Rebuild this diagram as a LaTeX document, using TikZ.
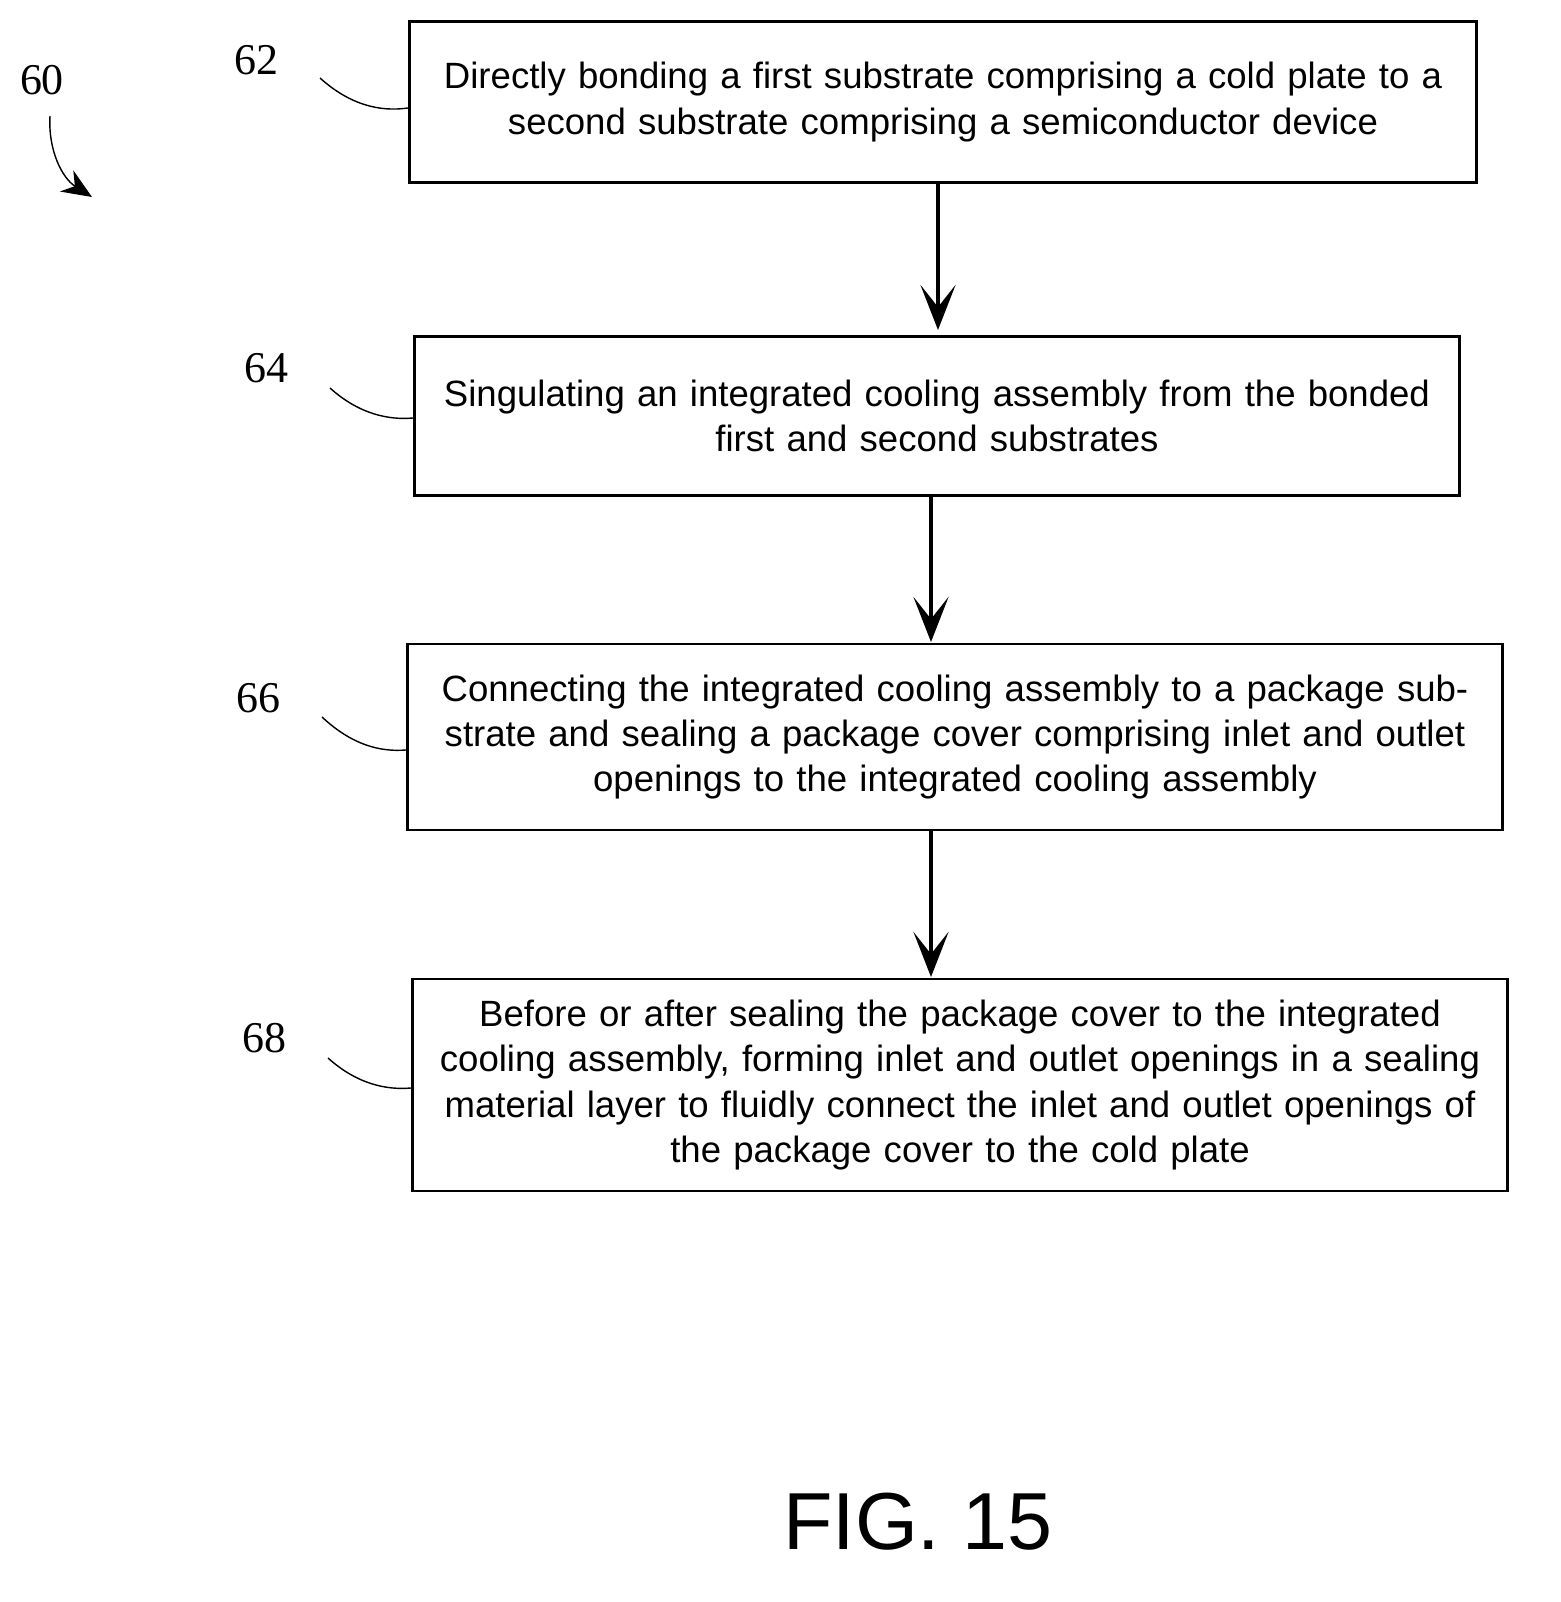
\documentclass[tikz,border=0pt]{standalone}
\usepackage{fontspec}
\setmainfont{Liberation Serif}
\newfontfamily\boxfont{Liberation Sans}
\usetikzlibrary{arrows.meta}
\begin{document}
\begin{tikzpicture}[x=0.01cm,y=-0.01cm,
    stepbox/.style={draw, thick, inner sep=0pt, align=center,
        font=\boxfont\fontsize{10.4}{12.9}\selectfont},
    ref/.style={font=\fontsize{12.5}{14}\selectfont},
    flow/.style={line width=1.3pt, -{Stealth[length=4.5mm,width=3.5mm,inset=2.2mm]}},
    leader/.style={thin}]
    \useasboundingbox (0,0) rectangle (1561,1602);
    % steps
    \node[stepbox, minimum width=10.67cm, minimum height=1.61cm, text width=10.6cm] (s62) at (943,102)
        {Directly bonding a first substrate comprising a cold plate to a\\second substrate comprising a semiconductor device};
    \node[stepbox, minimum width=10.45cm, minimum height=1.59cm, text width=10.4cm] (s64) at (937,416)
        {Singulating an integrated cooling assembly from the bonded\\first and second substrates};
    \node[stepbox, minimum width=10.95cm, minimum height=1.86cm, text width=10.9cm] (s66) at (955,737)
        {Connecting the integrated cooling assembly to a package sub-\\strate and sealing a package cover comprising inlet and outlet\\openings to the integrated cooling assembly};
    \node[stepbox, minimum width=10.95cm, minimum height=2.12cm, text width=10.9cm] (s68) at (960,1085)
        {Before or after sealing the package cover to the integrated\\cooling assembly, forming inlet and outlet openings in a sealing\\material layer to fluidly connect the inlet and outlet openings of\\the package cover to the cold plate};
    % arrows
    \draw[flow] (s62.south -| 938,0) -- (938,330);
    \draw[flow] (s64.south -| 931,0) -- (931,642);
    \draw[flow] (s66.south -| 931,0) -- (931,977);
    % reference numerals
    \node[ref] (n60) at (42,80) {60};
    \node[ref] (n62) at (256,60) {62};
    \node[ref] (n64) at (266,368) {64};
    \node[ref] (n66) at (258,698) {66};
    \node[ref] (n68) at (264,1038) {68};
    \draw[leader] (320,78) .. controls (350,105) and (380,112) .. (s62.west |- 0,108);
    \draw[leader] (330,388) .. controls (360,415) and (390,420) .. (s64.west |- 0,418);
    \draw[leader] (322,717) .. controls (352,745) and (380,752) .. (s66.west |- 0,750);
    \draw[leader] (328,1058) .. controls (358,1085) and (388,1090) .. (s68.west |- 0,1088);
    \draw[thin, -{Stealth[length=3mm,width=2.5mm]}] (50,116) .. controls (48,150) and (62,178) .. (92,197);
    % caption
    \node[font=\boxfont\fontsize{23}{26}\selectfont] (fig) at (918,1522) {FIG. 15};
\end{tikzpicture}
\end{document}
